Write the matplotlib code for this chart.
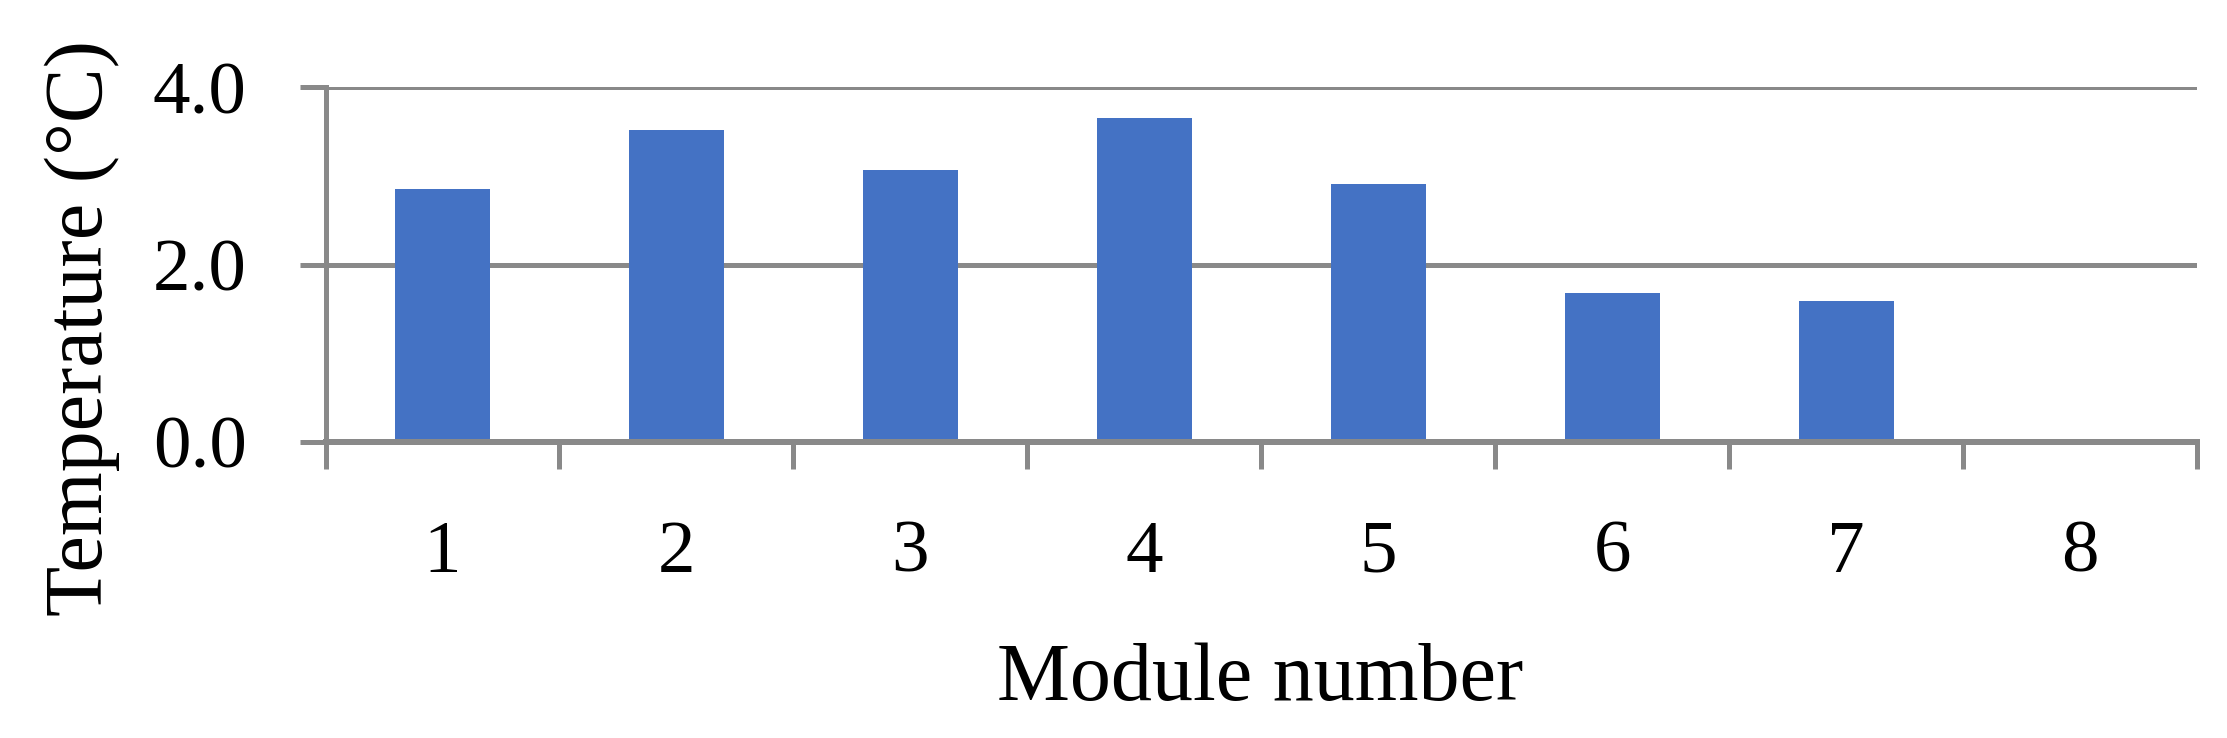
import matplotlib
matplotlib.use("Agg")
import matplotlib.pyplot as plt
import numpy as np

modules = ["1", "2", "3", "4", "5", "6", "7", "8"]
temperature = [2.85, 3.52, 3.07, 3.65, 2.91, 1.68, 1.59, 0.0]
y_ticks = [0.0, 2.0, 4.0]
y_tick_labels = ["0.0", "2.0", "4.0"]

DPI = 100
W, H = 2227, 738
px = 72.0 / DPI  # points per pixel

plt.rcParams['font.family'] = ['Liberation Serif', 'DejaVu Serif']
FS = 54
FS_LABEL = 59
GRAY = "#898989"
BLUE = "#4472C4"

fig = plt.figure(figsize=(W / DPI, H / DPI), dpi=DPI)
left, right = 325.5 / W, 2197 / W
bottom, top = (H - 441.7) / H, (H - 87.3) / H
ax = fig.add_axes([left, bottom, right - left, top - bottom])

x = np.arange(1, len(modules) + 1)
ax.bar(x, temperature, width=0.406, color=BLUE, zorder=3)

ax.set_xlim(0.5, len(modules) + 0.5)
ax.set_ylim(0, 4.0)

# y axis
ax.set_yticks(y_ticks)
ax.set_yticklabels(y_tick_labels, fontsize=FS)
ax.tick_params(axis='y', which='major', direction='out', length=26 * px,
               width=5 * px, color=GRAY, pad=53 * px)
ax.yaxis.grid(True, color=GRAY, linewidth=5 * px, zorder=1)
ax.set_axisbelow(True)

# x axis: major ticks at category boundaries, labels on minor ticks at centers
ax.set_xticks(np.arange(0.5, len(modules) + 1, 1.0))
ax.set_xticklabels([])
ax.set_xticks(x, minor=True)
ax.set_xticklabels(modules, minor=True, fontsize=FS)
ax.tick_params(axis='x', which='major', direction='out', length=27 * px,
               width=5 * px, color=GRAY)
ax.tick_params(axis='x', which='minor', length=0, pad=130 * px)
for lbl in ax.get_xticklabels(minor=True):
    lbl.set_verticalalignment('baseline')

for s in ['top', 'right']:
    ax.spines[s].set_visible(False)
ax.spines['left'].set_color(GRAY)
ax.spines['left'].set_linewidth(5 * px)
ax.spines['bottom'].set_color(GRAY)
ax.spines['bottom'].set_linewidth(6 * px)
ax.spines['bottom'].set_zorder(4)

fig.text(82 / W, (H - 328) / H, "Temperature (°C)", rotation=90,
         ha='center', va='center', fontsize=FS_LABEL)
fig.text(1260 / W, (H - 700) / H, "Module number", ha='center',
         va='baseline', fontsize=FS_LABEL)

fig.savefig("out.png", dpi=DPI, facecolor='white')
